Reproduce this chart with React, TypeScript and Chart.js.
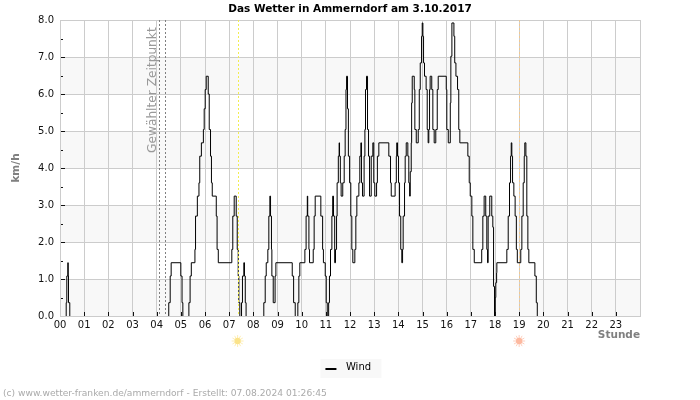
import React, { useEffect, useRef } from "react";
import { Chart, registerables } from "chart.js";

Chart.register(...registerables);

const FONT = "'DejaVu Sans', sans-serif";

const chartTitle = "Das Wetter in Ammerndorf am 3.10.2017";
const footerText = "(c) www.wetter-franken.de/ammerndorf - Erstellt: 07.08.2024 01:26:45";
const selectedLabel = "Gewählter Zeitpunkt";

// Minutes since midnight at which the wind reading changes.
const windMinutes = [
  0, 15.4, 15.4, 16.9, 19.4, 20.4, 21.1, 24.3,
  270, 270, 273.6, 276, 300, 303, 305,
  320, 320, 323, 326, 335, 336.5, 341, 345, 347, 351, 356, 358, 360.5, 363, 368, 370.5, 373.7, 376, 378, 388, 390, 393,
  426.6, 429, 432.5, 437.5, 440, 442.5, 444, 446.5,
  450.7, 450.7, 453, 456.4, 458, 460, 462,
  506, 506, 509.5, 512, 516, 518.5, 521, 522.7, 525, 526, 529.4, 534, 536, 576.6, 580, 584,
  590.5, 590.5, 593, 595.4, 608, 611, 614, 615, 618, 619.5, 628.7, 631, 633.6, 647.6, 652, 654, 658.5, 661, 663.5,
  667, 667, 669, 671.6, 675, 677, 679, 682, 684, 686.6, 688, 691, 693, 694, 696, 698, 702, 705.6, 708, 710, 711.5, 713.8, 716, 719, 722, 724.5, 727,
  732, 734.5, 737, 742, 744.4, 747, 748.5, 751, 755, 757, 758.5, 761, 763.5, 766, 768.5, 772.7, 776.7, 779, 781.6, 786, 788, 791.6,
  816.4, 820.6, 822.4, 832, 835, 836, 838, 840.5, 843, 846, 848.6, 850.5, 852, 855.4, 857, 859.6, 863.6, 866, 868, 869.6, 872, 873, 874.5, 879.5, 881, 884.5, 889.4,
  892, 894.4, 897.6, 899.3, 901, 902.6, 905, 909, 911.7, 914, 915.7, 917.5, 919, 923, 925.7, 929, 933, 936.6, 939, 959, 960.4, 964, 969, 970.4, 973, 978, 980, 983, 987, 990, 992.7,
  1012.6, 1016, 1018.5, 1022.5, 1025, 1028.5, 1047, 1049.8, 1053, 1057, 1059.7, 1061.5, 1063, 1067, 1072, 1074.6, 1076.4, 1078.8,
  1080.6, 1080.6, 1082, 1084, 1084.6, 1109.4, 1112.8, 1116, 1118.6, 1120.3, 1121.8, 1123.6, 1126.8, 1130, 1133, 1135.4,
  1144, 1146.7, 1150, 1152.6, 1154, 1156.7, 1159, 1161.6, 1164, 1179, 1182.5, 1185, 1439,
];

// Wind speed in km/h, one entry per change above.
const windSpeed = [
  0, 0, 0.36, 1.08, 1.44, 1.08, 0.36, 0,
  0, 0.36, 1.08, 1.44, 1.08, 0.36, 0,
  0, 0.36, 1.08, 1.44, 1.8, 2.7, 3.24, 3.6, 4.32, 4.68, 5.04, 5.6, 6.12, 6.48, 6.0, 5.04, 4.32, 3.6, 3.24, 2.7, 1.8, 1.44,
  1.8, 2.7, 3.24, 2.7, 1.8, 1.08, 0.36, 0,
  0, 0.36, 1.08, 1.44, 1.08, 0.36, 0,
  0, 0.36, 1.08, 1.44, 1.8, 2.7, 3.24, 2.7, 1.8, 1.08, 0.36, 1.08, 1.44, 1.08, 0.36, 0,
  0, 0.36, 1.08, 1.44, 1.8, 2.7, 3.24, 2.7, 1.8, 1.44, 1.8, 2.7, 3.24, 2.7, 1.8, 1.44, 1.08, 0.36, 0,
  0, 0.36, 1.08, 1.8, 2.7, 3.24, 2.7, 1.44, 1.8, 2.7, 3.6, 4.32, 4.68, 4.32, 3.6, 3.24, 3.6, 4.32, 5.04, 6.12, 6.48, 5.6, 4.32, 3.6, 2.7, 1.8, 1.44,
  1.8, 2.7, 3.24, 3.6, 4.32, 4.68, 3.6, 3.24, 4.32, 5.04, 6.12, 6.48, 5.04, 4.32, 3.24, 4.32, 4.68, 3.6, 3.24, 3.6, 4.32, 4.68,
  4.32, 3.6, 3.24, 3.6, 4.32, 4.68, 4.32, 3.6, 2.7, 1.8, 1.44, 1.8, 2.7, 3.6, 4.32, 4.68, 4.32, 3.6, 3.24, 3.9, 4.68, 5.76, 6.48, 6.12, 5.04, 4.68, 5.04,
  6.12, 6.84, 7.56, 7.92, 7.56, 6.84, 6.48, 6.12, 5.04, 4.68, 5.04, 6.12, 6.48, 6.12, 5.04, 4.68, 5.04, 6.12, 6.48, 6.12, 5.04, 4.68, 5.76, 7.02, 7.92, 7.56, 6.84, 6.48, 6.12, 5.04, 4.68,
  4.32, 3.6, 3.24, 2.7, 1.8, 1.44, 1.8, 2.7, 3.24, 2.7, 1.8, 1.44, 2.7, 3.24, 2.7, 2.4, 0.8, 0,
  0, 0.5, 0.9, 1.17, 1.44, 1.8, 2.7, 3.6, 4.32, 4.68, 4.32, 3.6, 3.24, 2.7, 1.8, 1.44,
  1.8, 2.7, 3.6, 4.32, 4.68, 4.32, 2.7, 1.8, 1.44, 1.08, 0.36, 0, 0,
];

const selectedMinutes = [245, 260];
const sunriseMinute = 441;
const sunsetMinute = 1140;
const shadedBands = [[6, 7], [4, 5], [2, 3], [0, 1]];
const minorTickValues = [0.5, 1.5, 2.5, 3.5, 4.5, 5.5, 6.5, 7.5];

function drawSun(ctx: CanvasRenderingContext2D, x: number, y: number, core: string, rays: string) {
  ctx.save();
  ctx.strokeStyle = rays;
  ctx.lineWidth = 1;
  for (let i = 0; i < 12; i++) {
    const a = (i * Math.PI) / 6;
    ctx.beginPath();
    ctx.moveTo(x + Math.cos(a) * 3, y + Math.sin(a) * 3);
    ctx.lineTo(x + Math.cos(a) * 6, y + Math.sin(a) * 6);
    ctx.stroke();
  }
  ctx.fillStyle = core;
  ctx.beginPath();
  ctx.arc(x, y, 3.2, 0, Math.PI * 2);
  ctx.fill();
  ctx.restore();
}

const decorations = {
  id: "decorations",
  beforeDraw(chart: any) {
    const { ctx, chartArea: a, scales } = chart;
    ctx.save();
    ctx.fillStyle = "#f8f8f8";
    for (const [lo, hi] of shadedBands) {
      const top = scales.y.getPixelForValue(hi);
      ctx.fillRect(a.left, top, a.right - a.left, scales.y.getPixelForValue(lo) - top);
    }
    // Panel behind the legend entry, plus its line swatch.
    const hit = chart.legend?.legendHitBoxes?.[0];
    if (hit) {
      const mid = hit.top + hit.height / 2;
      ctx.fillRect(hit.left - 8.5, mid - 8, 61, 19);
      ctx.fillStyle = "#000000";
      ctx.fillRect(hit.left - 3.5, mid + 1, 11, 2);
    }
    ctx.restore();
  },
  afterDatasetsDraw(chart: any) {
    const { ctx, chartArea: a, scales } = chart;
    const vline = (minute: number, color: string, dash: number[]) => {
      const x = Math.round(scales.x.getPixelForValue(minute)) + 0.5;
      ctx.save();
      ctx.strokeStyle = color;
      ctx.lineWidth = 1;
      ctx.setLineDash(dash);
      ctx.beginPath();
      ctx.moveTo(x, a.top);
      ctx.lineTo(x, a.bottom);
      ctx.stroke();
      ctx.restore();
    };
    selectedMinutes.forEach((m) => vline(m, "#808080", [2, 2]));
    vline(sunriseMinute, "#f2ee50", [2, 2]);
    vline(sunsetMinute, "#f0c890", [2, 2]);

    ctx.save();
    ctx.strokeStyle = "#111111";
    ctx.lineWidth = 1;
    ctx.beginPath();
    for (let h = 1; h < 24; h++) {
      const x = Math.round(scales.x.getPixelForValue(h * 60)) + 0.5;
      ctx.moveTo(x, a.bottom - 4);
      ctx.lineTo(x, a.bottom);
    }
    for (let v = 1; v < 8; v++) {
      const y = Math.round(scales.y.getPixelForValue(v)) + 0.5;
      ctx.moveTo(a.left + 1, y);
      ctx.lineTo(a.left + 5, y);
    }
    for (const v of minorTickValues) {
      const y = Math.round(scales.y.getPixelForValue(v)) + 0.5;
      ctx.moveTo(a.left + 1, y);
      ctx.lineTo(a.left + 3, y);
    }
    ctx.stroke();

    ctx.fillStyle = "#999999";
    ctx.font = `12.2px ${FONT}`;
    ctx.textAlign = "left";
    ctx.textBaseline = "alphabetic";
    ctx.translate(scales.x.getPixelForValue(selectedMinutes[0]) - 2.5, 153);
    ctx.rotate(-Math.PI / 2);
    ctx.fillText(selectedLabel, 0, 0);
    ctx.restore();

    drawSun(ctx, scales.x.getPixelForValue(sunriseMinute), 341, "#fbe38a", "#fdeeb5");
    drawSun(ctx, scales.x.getPixelForValue(sunsetMinute), 341, "#fdb9a0", "#fdd0bf");

    ctx.save();
    ctx.fillStyle = "#aaaaaa";
    ctx.font = `9.15px ${FONT}`;
    ctx.textAlign = "left";
    ctx.textBaseline = "alphabetic";
    ctx.fillText(footerText, 3, 396);
    ctx.restore();
  },
};

export default function App() {
  const ref = useRef<HTMLCanvasElement>(null);
  useEffect(() => {
    const chart = new Chart(ref.current!, {
      type: "line",
      plugins: [decorations],
      data: {
        datasets: [
          {
            label: "Wind",
            data: windMinutes.map((x, i) => ({ x, y: windSpeed[i] })),
            borderColor: "#000000",
            backgroundColor: "#000000",
            borderWidth: 1,
            pointRadius: 0,
            stepped: true,
            segment: {
              // The calm stretches stay hidden along the axis line.
              borderColor: (c: any) =>
                c.p0.parsed.y === 0 && c.p1.parsed.y === 0 ? "rgba(0,0,0,0)" : undefined,
            },
          },
        ],
      },
      options: {
        animation: false,
        responsive: false,
        layout: { padding: { top: 0, right: 0, bottom: 18, left: 0 } },
        plugins: {
          tooltip: { enabled: false },
          title: {
            display: true,
            text: chartTitle,
            color: "#000000",
            font: { family: FONT, size: 10.5, weight: "bold" },
            padding: { top: 3, bottom: 4.4 },
          },
          legend: {
            position: "bottom",
            labels: {
              color: "#000000",
              font: { family: FONT, size: 10 },
              boxWidth: 12,
              boxHeight: 2,
              padding: 6,
              generateLabels: (c: any) => [
                {
                  text: c.data.datasets[0].label,
                  fillStyle: "rgba(0,0,0,0)",
                  strokeStyle: "rgba(0,0,0,0)",
                  lineWidth: 0,
                  datasetIndex: 0,
                },
              ],
            },
          },
        },
        scales: {
          x: {
            type: "linear",
            min: 0,
            max: 1440,
            afterFit: (s: any) => {
              s.height = 40;
            },
            grid: { color: "#cccccc", drawTicks: false, lineWidth: 1 },
            border: { color: "#cccccc" },
            title: {
              display: true,
              text: "Stunde",
              align: "end",
              color: "#808080",
              font: { family: FONT, size: 10.5, weight: "bold" },
              padding: { top: 0, bottom: 14 },
            },
            ticks: {
              stepSize: 60,
              autoSkip: false,
              maxRotation: 0,
              color: "#111111",
              padding: 3,
              font: { family: FONT, size: 10 },
              callback: (v: any) => (v >= 1440 ? "" : String(v / 60).padStart(2, "0")),
            },
          },
          y: {
            min: 0,
            max: 8,
            afterFit: (s: any) => {
              s.width = 60;
            },
            grid: { color: "#cccccc", drawTicks: false, lineWidth: 1 },
            border: { color: "#cccccc" },
            title: {
              display: true,
              text: "km/h",
              color: "#808080",
              font: { family: FONT, size: 10.5, weight: "bold" },
              padding: { top: 10, bottom: 0 },
            },
            ticks: {
              stepSize: 1,
              color: "#111111",
              padding: 6,
              font: { family: FONT, size: 10 },
              callback: (v: any) => Number(v).toFixed(1),
            },
          },
          // Empty axis that keeps the right-hand margin free.
          yRight: {
            position: "right",
            min: 0,
            max: 8,
            afterFit: (s: any) => {
              s.width = 60;
            },
            grid: { display: false },
            border: { display: false },
            ticks: { display: false },
          },
        },
      },
    } as any);
    return () => chart.destroy();
  }, []);
  return (
    <canvas
      ref={ref}
      width={700}
      height={400}
      style={{ position: "absolute", left: 0, top: 0, width: 700, height: 400 }}
    />
  );
}
